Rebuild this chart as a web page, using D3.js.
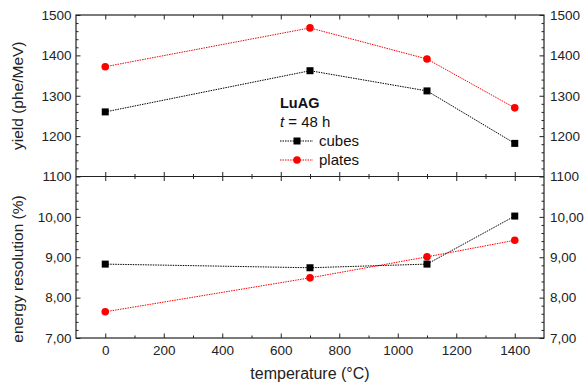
<!DOCTYPE html>
<html>
<head>
<meta charset="utf-8">
<script src="https://cdn.jsdelivr.net/npm/d3@7"></script>
<style>
  body { margin: 0; background: #fff; }
  svg { font-family: "Liberation Sans", Arial, sans-serif; }
</style>
</head>
<body>
<div id="chart"></div>
<script>
const temps = [0, 700, 1100, 1400];
const yieldCubes = [1260, 1362, 1312, 1182];
const yieldPlates = [1372, 1468, 1391, 1270];
const resCubes = [8.83, 8.74, 8.83, 10.02];
const resPlates = [7.65, 8.49, 9.01, 9.42];
const xTicks = [0, 200, 400, 600, 800, 1000, 1200, 1400];
const yieldTicks = [1100, 1200, 1300, 1400, 1500];
const resTicks = [7, 8, 9, 10];

const W = 585, H = 385;
const pLeft = 76, pRight = 544, pTop = 15, pMid = 176.5, pBottom = 338;

const svg = d3.select("#chart").append("svg")
  .attr("width", W).attr("height", H);

const x = d3.scaleLinear().domain([-100, 1500]).range([pLeft, pRight]);
const yTop = d3.scaleLinear().domain([1100, 1500]).range([pMid, pTop]);
const yBot = d3.scaleLinear().domain([7, 11]).range([pBottom, pMid]);

const comma = d3.formatLocale({decimal: ",", thousands: ".", grouping: [3], currency: ["", ""]}).format(".2f");

const xMinor = d3.range(-100, 1501, 100).filter(v => v % 200 !== 0 && v > -100 && v < 1500);

// draws major + minor ticks for one side; ticks point inward
function ticks(axisFn, scale, major, minor, translate, fmt, pad) {
  const g = svg.append("g").attr("transform", translate);
  g.append("g").call(axisFn(scale).tickValues(minor).tickSize(-2.5).tickFormat(""));
  g.append("g").call(axisFn(scale).tickValues(major).tickSize(-4.5).tickPadding(pad || 0)
    .tickFormat(fmt ? fmt : ""));
  g.selectAll(".domain").remove();
  g.selectAll("line").attr("stroke", "#222").attr("stroke-width", 1);
  g.selectAll("text").attr("font-size", 13.5).attr("fill", "#222")
    .attr("font-family", "Liberation Sans, Arial, sans-serif");
  return g;
}

// top panel
const yMinor = d3.range(1100, 1501, 20).filter(v => v % 100);
ticks(d3.axisLeft, yTop, yieldTicks, yMinor, `translate(${pLeft},0)`, d3.format("d"), 4.5);
ticks(d3.axisRight, yTop, yieldTicks, yMinor, `translate(${pRight},0)`, d3.format("d"), 6);
ticks(d3.axisTop, x, xTicks, xMinor, `translate(0,${pTop})`, null);
ticks(d3.axisBottom, x, xTicks, xMinor, `translate(0,${pMid})`, null);

// bottom panel
const resMinor = d3.range(7, 11.001, 0.2).filter(v => Math.abs(v - Math.round(v)) > 0.01);
ticks(d3.axisLeft, yBot, resTicks, resMinor, `translate(${pLeft},0)`, comma, 4.5);
ticks(d3.axisRight, yBot, resTicks, resMinor, `translate(${pRight},0)`, comma, 6);
ticks(d3.axisTop, x, xTicks, xMinor, `translate(0,${pMid})`, null);
const xb = ticks(d3.axisBottom, x, xTicks, xMinor, `translate(0,${pBottom})`, d3.format("d"), 4);
xb.selectAll("text").attr("dy", "0.95em").attr("y", 4);

// frames
svg.append("rect").attr("x", pLeft).attr("y", pTop).attr("width", pRight - pLeft).attr("height", pBottom - pTop)
  .attr("fill", "none").attr("stroke", "#222").attr("stroke-width", 1.2);
svg.append("line").attr("x1", pLeft).attr("x2", pRight).attr("y1", pMid).attr("y2", pMid)
  .attr("stroke", "#222").attr("stroke-width", 1.2);

function marker(cx, cy, color, shape) {
  if (shape === "square") {
    svg.append("rect").attr("x", cx - 3.5).attr("y", cy - 3.5).attr("width", 7).attr("height", 7).attr("fill", color);
  } else {
    svg.append("circle").attr("cx", cx).attr("cy", cy).attr("r", 3.8).attr("fill", color);
  }
}
function series(vals, yScale, color, shape) {
  const pts = temps.map((t, i) => [x(t), yScale(vals[i])]);
  svg.append("path").attr("d", d3.line()(pts)).attr("fill", "none")
    .attr("stroke", color).attr("stroke-width", 1).attr("stroke-dasharray", "1.5,1");
  pts.forEach(p => marker(p[0], p[1], color, shape));
}

series(yieldPlates, yTop, "#ff0000", "circle");
series(yieldCubes, yTop, "#000", "square");
series(resPlates, yBot, "#ff0000", "circle");
series(resCubes, yBot, "#000", "square");

// legend
const lg = svg.append("g").attr("font-size", 15).attr("fill", "#111");
lg.append("text").attr("x", 280).attr("y", 108).attr("font-weight", "bold").attr("font-size", 14.5).text("LuAG");
const tt = lg.append("text").attr("x", 280).attr("y", 126.5);
tt.append("tspan").attr("font-style", "italic").text("t");
tt.append("tspan").text(" = 48 h");
[["cubes", "#000", "square", 141], ["plates", "#ff0000", "circle", 160]].forEach(([name, color, shape, ly]) => {
  svg.append("line").attr("x1", 280).attr("x2", 313).attr("y1", ly).attr("y2", ly)
    .attr("stroke", color).attr("stroke-width", 1).attr("stroke-dasharray", "1.5,1");
  marker(297, ly, color, shape);
  lg.append("text").attr("x", 319).attr("y", ly + 4.5).text(name);
});

// axis titles
svg.append("text").attr("transform", `translate(23,${(pTop + pMid) / 2}) rotate(-90)`)
  .attr("text-anchor", "middle").attr("font-size", 15.5).attr("fill", "#222").text("yield (phe/MeV)");
svg.append("text").attr("transform", `translate(23,269) rotate(-90)`)
  .attr("text-anchor", "middle").attr("font-size", 15.5).attr("fill", "#222").text("energy resolution (%)");
svg.append("text").attr("x", (pLeft + pRight) / 2).attr("y", 378.5)
  .attr("text-anchor", "middle").attr("font-size", 16).attr("fill", "#222").text("temperature (°C)");
</script>
</body>
</html>
